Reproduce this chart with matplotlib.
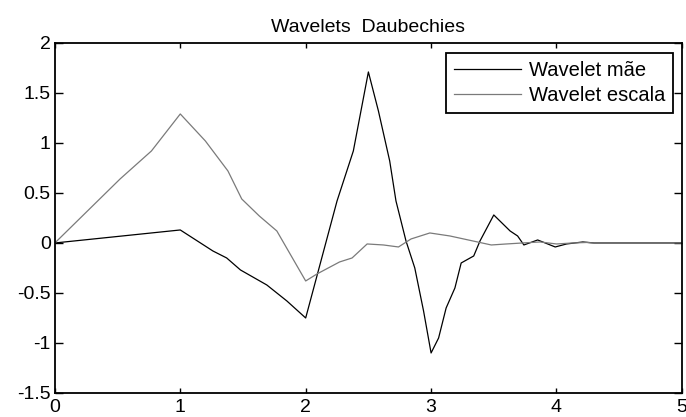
import matplotlib
matplotlib.use("Agg")
import matplotlib.pyplot as plt

## values (db wavelet, coarse resolution)
t_mae = [0, 1.0, 1.26, 1.37, 1.48, 1.69, 1.85, 2.0, 2.25, 2.38, 2.5, 2.58, 2.67,
         2.72, 2.80, 2.87, 2.94, 3.0, 3.06, 3.12, 3.19, 3.24, 3.34, 3.39, 3.5,
         3.63, 3.69, 3.74, 3.85, 3.99, 4.08, 4.21, 4.3, 5.0]
psi = [0, 0.13, -0.08, -0.15, -0.27, -0.42, -0.58, -0.75, 0.42, 0.92, 1.71, 1.32, 0.82,
       0.42, 0.02, -0.25, -0.68, -1.10, -0.95, -0.65, -0.45, -0.20, -0.13, 0.02, 0.28,
       0.12, 0.07, -0.02, 0.03, -0.04, -0.01, 0.01, 0.0, 0.0]

t_escala = [0, 0.52, 0.77, 1.0, 1.2, 1.38, 1.49, 1.63, 1.77, 2.0, 2.09, 2.27, 2.37,
            2.49, 2.62, 2.74, 2.84, 2.99, 3.15, 3.37, 3.48, 3.6, 3.73, 3.87, 4.0,
            4.13, 4.24, 4.29, 5.0]
phi = [0, 0.64, 0.92, 1.29, 1.02, 0.72, 0.44, 0.27, 0.12, -0.38, -0.31, -0.19, -0.15,
       -0.01, -0.02, -0.04, 0.04, 0.10, 0.07, 0.01, -0.02, -0.01, 0.0, 0.01, -0.01,
       0.0, 0.005, 0.0, 0.0]

xticks = [0, 1, 2, 3, 4, 5]
yticks = [-1.5, -1, -0.5, 0, 0.5, 1, 1.5, 2]

plt.rcParams['font.family'] = ['Liberation Sans', 'DejaVu Sans']
fig = plt.figure(figsize=(6.86, 4.17), dpi=100)
ax = fig.add_axes([0.080, 0.0576, 0.914, 0.8394])

ax.plot(t_mae, psi, color='black', lw=0.9, label='Wavelet mãe')
ax.plot(t_escala, phi, color='#7a7a7a', lw=0.9, label='Wavelet escala')

ax.set_xlim(0, 5)
ax.set_ylim(-1.5, 2)
ax.set_xticks(xticks)
ax.set_yticks(yticks)
ax.set_xticklabels(['%g' % v for v in xticks])
ax.set_yticklabels(['%g' % v for v in yticks])
ax.tick_params(direction='in', top=True, right=True, labelsize=14, width=1, pad=3)
ax.tick_params(axis='y', length=6)
ax.tick_params(axis='x', length=3.5, pad=4)
for s in ax.spines.values():
    s.set_linewidth(1.3)

ax.set_title('Wavelets  Daubechies', fontsize=14, pad=8)

leg = ax.legend(loc='upper right', bbox_to_anchor=(0.986, 0.971), borderaxespad=0,
                fontsize=14.5, handlelength=3.3, handletextpad=0.4, labelspacing=0.3,
                borderpad=0.4, fancybox=False, framealpha=1)
leg.get_frame().set_edgecolor('black')
leg.get_frame().set_linewidth(1.3)

plt.savefig('out.png', dpi=100)
